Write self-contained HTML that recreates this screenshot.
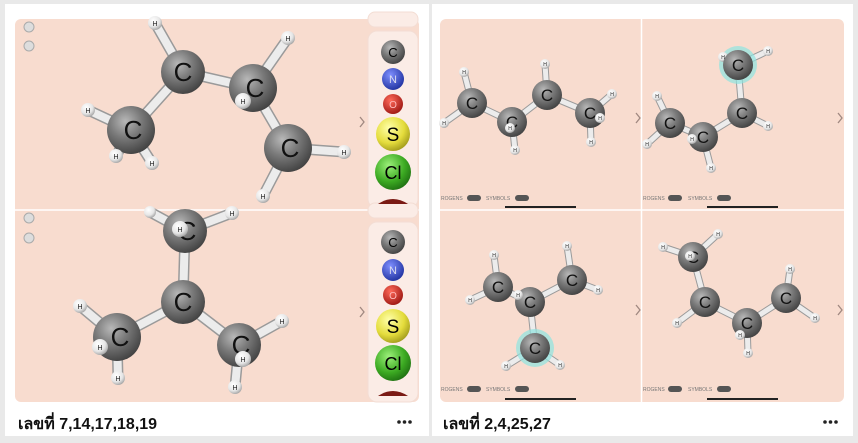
<!DOCTYPE html>
<html><head><meta charset="utf-8"><style>
html,body{margin:0;padding:0;background:#e9e9e9;}
body{width:858px;height:443px;position:relative;overflow:hidden;font-family:"Liberation Sans","DejaVu Sans",sans-serif;}
</style></head><body>
<svg width="858" height="443" viewBox="0 0 858 443" xmlns="http://www.w3.org/2000/svg" style="position:absolute;left:0;top:0">
<defs>
<radialGradient id="gc" cx="0.38" cy="0.32" r="0.75"><stop offset="0" stop-color="#b8b8b8"/><stop offset="0.45" stop-color="#7a7a7a"/><stop offset="1" stop-color="#3c3c3c"/></radialGradient>
<radialGradient id="gh" cx="0.38" cy="0.32" r="0.75"><stop offset="0" stop-color="#ffffff"/><stop offset="0.6" stop-color="#e6e6e6"/><stop offset="1" stop-color="#9a9a9a"/></radialGradient>
<radialGradient id="gn" cx="0.38" cy="0.32" r="0.75"><stop offset="0" stop-color="#7f8fff"/><stop offset="1" stop-color="#1c2e9c"/></radialGradient>
<radialGradient id="go" cx="0.38" cy="0.32" r="0.75"><stop offset="0" stop-color="#ff6a5a"/><stop offset="1" stop-color="#9a1410"/></radialGradient>
<radialGradient id="gs" cx="0.38" cy="0.32" r="0.75"><stop offset="0" stop-color="#ffffa8"/><stop offset="0.6" stop-color="#e4dc3c"/><stop offset="1" stop-color="#9a9418"/></radialGradient>
<radialGradient id="gcl" cx="0.38" cy="0.32" r="0.75"><stop offset="0" stop-color="#9cf07a"/><stop offset="0.6" stop-color="#3caa22"/><stop offset="1" stop-color="#1c6a10"/></radialGradient>
</defs>
<rect x="5" y="4" width="424" height="432" fill="#fff"/>
<rect x="432" y="4" width="421" height="432" fill="#fff"/>
<rect x="15" y="19" width="404" height="383" rx="6" fill="#f8dccf"/>
<rect x="440" y="19" width="404" height="383" rx="6" fill="#f8dccf"/>
<line x1="15" y1="210" x2="419" y2="210" stroke="#fff" stroke-width="1.5"/>
<line x1="440" y1="210" x2="844" y2="210" stroke="#fff" stroke-width="1.5"/>
<line x1="641.5" y1="19" x2="641.5" y2="402" stroke="#fff" stroke-width="1.5"/>
<g fill="#fbece6" stroke="#f3ddd4">
<rect x="368" y="12" width="50" height="15" rx="7"/><rect x="368" y="31" width="50" height="177" rx="9"/>
<rect x="368" y="203" width="50" height="15" rx="7"/><rect x="368" y="222" width="50" height="180" rx="9"/>
</g>
<g font-family="Liberation Sans,sans-serif" text-anchor="middle">
<circle cx="393" cy="52" r="12" fill="url(#gc)"/><text x="393" y="57" font-size="13">C</text>
<circle cx="393" cy="79" r="11" fill="url(#gn)"/><text x="393" y="83" font-size="11" fill="#dde">N</text>
<circle cx="393" cy="104" r="10" fill="url(#go)"/><text x="393" y="108" font-size="10" fill="#fbb">O</text>
<circle cx="393" cy="134" r="17" fill="url(#gs)"/><text x="393" y="141" font-size="19">S</text>
<circle cx="393" cy="172" r="18" fill="url(#gcl)"/><text x="393" y="179" font-size="18">Cl</text>
<path d="M378 204 Q393 194 408 204 Z" fill="#7a1a14"/>
<circle cx="393" cy="242" r="12" fill="url(#gc)"/><text x="393" y="247" font-size="13">C</text>
<circle cx="393" cy="270" r="11" fill="url(#gn)"/><text x="393" y="274" font-size="11" fill="#dde">N</text>
<circle cx="393" cy="295" r="10" fill="url(#go)"/><text x="393" y="299" font-size="10" fill="#fbb">O</text>
<circle cx="393" cy="326" r="17" fill="url(#gs)"/><text x="393" y="333" font-size="19">S</text>
<circle cx="393" cy="363" r="18" fill="url(#gcl)"/><text x="393" y="370" font-size="18">Cl</text>
<path d="M378 396 Q393 386 408 396 Z" fill="#7a1a14"/>
</g>
<g fill="#ddd" stroke="#aaa"><circle cx="29" cy="27" r="5"/><circle cx="29" cy="46" r="5"/><circle cx="29" cy="218" r="5"/><circle cx="29" cy="238" r="5"/></g>
<g fill="none" stroke="#a08880" stroke-width="1.3">
<polyline points="360,117 364,122 360,127"/><polyline points="360,307 364,312 360,317"/>
<polyline points="636,113 640,118 636,123"/><polyline points="838,113 842,118 838,123"/>
<polyline points="636,305 640,310 636,315"/><polyline points="838,305 842,310 838,315"/>
</g>
<g font-size="5" fill="#777">
<text x="441" y="200">ROGENS</text><rect x="467" y="195" width="14" height="6" rx="3" fill="#555"/><text x="486" y="200">SYMBOLS</text><rect x="515" y="195" width="14" height="6" rx="3" fill="#555"/>
<text x="643" y="200">ROGENS</text><rect x="668" y="195" width="14" height="6" rx="3" fill="#555"/><text x="688" y="200">SYMBOLS</text><rect x="717" y="195" width="14" height="6" rx="3" fill="#555"/>
<text x="441" y="391">ROGENS</text><rect x="467" y="386" width="14" height="6" rx="3" fill="#555"/><text x="486" y="391">SYMBOLS</text><rect x="515" y="386" width="14" height="6" rx="3" fill="#555"/>
<text x="643" y="391">ROGENS</text><rect x="668" y="386" width="14" height="6" rx="3" fill="#555"/><text x="688" y="391">SYMBOLS</text><rect x="717" y="386" width="14" height="6" rx="3" fill="#555"/>
</g>
<g stroke="#222" stroke-width="2"><line x1="505" y1="207" x2="576" y2="207"/><line x1="707" y1="207" x2="778" y2="207"/><line x1="505" y1="399" x2="576" y2="399"/><line x1="707" y1="399" x2="778" y2="399"/></g>

<g stroke-linecap="round" fill="none">
<g stroke="#9a9a9a" stroke-width="11">
<path d="M131 130L183 72L253 88L288 148M131 130L88 110M131 130L116 156M131 130L152 163M183 72L155 23M253 88L288 38M288 148L344 152M288 148L263 196"/>
<path d="M185 231L183 302L117 337M183 302L239 345M185 231L232 213M185 231L150 212M117 337L80 306M117 337L118 378M239 345L282 321M239 345L235 387"/>
</g>
<g stroke="#ececec" stroke-width="8">
<path d="M131 130L183 72L253 88L288 148M131 130L88 110M131 130L116 156M131 130L152 163M183 72L155 23M253 88L288 38M288 148L344 152M288 148L263 196"/>
<path d="M185 231L183 302L117 337M183 302L239 345M185 231L232 213M185 231L150 212M117 337L80 306M117 337L118 378M239 345L282 321M239 345L235 387"/>
</g>
<g stroke="#9a9a9a" stroke-width="7">
<path d="M472 103L512 122L547 95L590 113M472 103L464 72M472 103L444 123M512 122L515 150M547 95L545 64M590 113L612 94M590 113L591 142"/>
<path d="M738 65L742 113L703 137L670 123M738 65L723 57M738 65L768 51M742 113L768 126M670 123L657 96M670 123L647 144M703 137L711 168"/>
<path d="M498 287L530 302L572 280M530 302L535 348M498 287L494 255M498 287L470 300M572 280L567 246M572 280L598 290M535 348L506 366M535 348L560 365"/>
<path d="M693 257L705 302L747 323L786 298M693 257L663 247M693 257L718 234M705 302L677 323M747 323L748 353M786 298L790 269M786 298L815 318"/>
</g>
<g stroke="#ececec" stroke-width="5">
<path d="M472 103L512 122L547 95L590 113M472 103L464 72M472 103L444 123M512 122L515 150M547 95L545 64M590 113L612 94M590 113L591 142"/>
<path d="M738 65L742 113L703 137L670 123M738 65L723 57M738 65L768 51M742 113L768 126M670 123L657 96M670 123L647 144M703 137L711 168"/>
<path d="M498 287L530 302L572 280M530 302L535 348M498 287L494 255M498 287L470 300M572 280L567 246M572 280L598 290M535 348L506 366M535 348L560 365"/>
<path d="M693 257L705 302L747 323L786 298M693 257L663 247M693 257L718 234M705 302L677 323M747 323L748 353M786 298L790 269M786 298L815 318"/>
</g>
</g>

<g font-family="Liberation Sans,sans-serif" text-anchor="middle">
<g fill="url(#gh)">
<circle cx="88" cy="110" r="7"/><circle cx="152" cy="163" r="7"/><circle cx="155" cy="23" r="7"/><circle cx="288" cy="38" r="7"/><circle cx="344" cy="152" r="7"/><circle cx="263" cy="196" r="7"/>
<circle cx="150" cy="212" r="6"/><circle cx="232" cy="213" r="7"/><circle cx="80" cy="306" r="7"/><circle cx="118" cy="378" r="7"/><circle cx="282" cy="321" r="7"/><circle cx="235" cy="387" r="7"/>
</g>
<g fill="url(#gc)">
<circle cx="131" cy="130" r="24"/><circle cx="183" cy="72" r="22"/><circle cx="253" cy="88" r="24"/><circle cx="288" cy="148" r="24"/>
<circle cx="185" cy="231" r="22"/><circle cx="183" cy="302" r="22"/><circle cx="117" cy="337" r="24"/><circle cx="239" cy="345" r="22"/>
</g>
<g font-size="26" fill="#111">
<text x="133" y="139">C</text><text x="183" y="81">C</text><text x="255" y="97">C</text><text x="290" y="157">C</text>
<text x="183" y="311">C</text><text x="120" y="346">C</text><text x="241" y="354">C</text><text x="187" y="240">C</text>
</g>
<g fill="url(#gh)"><circle cx="116" cy="156" r="7"/><circle cx="243" cy="101" r="8"/><circle cx="180" cy="229" r="8"/><circle cx="100" cy="347" r="8"/><circle cx="243" cy="359" r="8"/></g>
<g font-size="7" fill="#222">
<text x="88" y="113">H</text><text x="116" y="159">H</text><text x="152" y="166">H</text><text x="155" y="26">H</text><text x="288" y="41">H</text><text x="243" y="104">H</text><text x="344" y="155">H</text><text x="263" y="199">H</text>
<text x="232" y="216">H</text><text x="180" y="232">H</text><text x="80" y="309">H</text><text x="100" y="350">H</text><text x="118" y="381">H</text><text x="282" y="324">H</text><text x="243" y="362">H</text><text x="235" y="390">H</text>
</g>
<circle cx="738" cy="65" r="19" fill="#8fe4e0" opacity="0.7"/>
<circle cx="535" cy="348" r="19" fill="#8fe4e0" opacity="0.7"/>
<g fill="url(#gh)">
<circle cx="464" cy="72" r="5"/><circle cx="444" cy="123" r="5"/><circle cx="515" cy="150" r="5"/><circle cx="545" cy="64" r="5"/><circle cx="612" cy="94" r="5"/><circle cx="591" cy="142" r="5"/>
<circle cx="723" cy="57" r="5"/><circle cx="768" cy="51" r="5"/><circle cx="768" cy="126" r="5"/><circle cx="657" cy="96" r="5"/><circle cx="647" cy="144" r="5"/><circle cx="711" cy="168" r="5"/>
<circle cx="494" cy="255" r="5"/><circle cx="470" cy="300" r="5"/><circle cx="567" cy="246" r="5"/><circle cx="598" cy="290" r="5"/><circle cx="506" cy="366" r="5"/><circle cx="560" cy="365" r="5"/>
<circle cx="663" cy="247" r="5"/><circle cx="718" cy="234" r="5"/><circle cx="677" cy="323" r="5"/><circle cx="748" cy="353" r="5"/><circle cx="790" cy="269" r="5"/><circle cx="815" cy="318" r="5"/>
</g>
<g fill="url(#gc)">
<circle cx="472" cy="103" r="15"/><circle cx="512" cy="122" r="15"/><circle cx="547" cy="95" r="15"/><circle cx="590" cy="113" r="15"/>
<circle cx="738" cy="65" r="15"/><circle cx="742" cy="113" r="15"/><circle cx="703" cy="137" r="15"/><circle cx="670" cy="123" r="15"/>
<circle cx="498" cy="287" r="15"/><circle cx="530" cy="302" r="15"/><circle cx="572" cy="280" r="15"/><circle cx="535" cy="348" r="15"/>
<circle cx="693" cy="257" r="15"/><circle cx="705" cy="302" r="15"/><circle cx="747" cy="323" r="15"/><circle cx="786" cy="298" r="15"/>
</g>
<g font-size="17" fill="#111">
<text x="472" y="109">C</text><text x="512" y="128">C</text><text x="547" y="101">C</text><text x="590" y="119">C</text>
<text x="738" y="71">C</text><text x="742" y="119">C</text><text x="703" y="143">C</text><text x="670" y="129">C</text>
<text x="498" y="293">C</text><text x="530" y="308">C</text><text x="572" y="286">C</text><text x="535" y="354">C</text>
<text x="693" y="263">C</text><text x="705" y="308">C</text><text x="747" y="329">C</text><text x="786" y="304">C</text>
</g>
<g fill="url(#gh)"><circle cx="510" cy="128" r="5"/><circle cx="600" cy="118" r="5"/><circle cx="692" cy="139" r="5"/><circle cx="518" cy="295" r="5"/><circle cx="690" cy="256" r="5"/><circle cx="740" cy="335" r="5"/></g>
<g font-size="5" fill="#222">
<text x="464" y="74">H</text><text x="444" y="125">H</text><text x="515" y="152">H</text><text x="545" y="66">H</text><text x="612" y="96">H</text><text x="591" y="144">H</text><text x="510" y="130">H</text><text x="600" y="120">H</text>
<text x="723" y="59">H</text><text x="768" y="53">H</text><text x="768" y="128">H</text><text x="657" y="98">H</text><text x="647" y="146">H</text><text x="711" y="170">H</text><text x="692" y="141">H</text>
<text x="494" y="257">H</text><text x="470" y="302">H</text><text x="567" y="248">H</text><text x="598" y="292">H</text><text x="506" y="368">H</text><text x="560" y="367">H</text><text x="518" y="297">H</text>
<text x="663" y="249">H</text><text x="718" y="236">H</text><text x="677" y="325">H</text><text x="748" y="355">H</text><text x="790" y="271">H</text><text x="815" y="320">H</text><text x="690" y="258">H</text><text x="740" y="337">H</text>
</g>
</g>
<text x="18" y="429" font-family="Liberation Sans,'DejaVu Sans',sans-serif" font-size="16" font-weight="bold" fill="#111">เลขที่ 7,14,17,18,19</text>
<text x="443" y="429" font-family="Liberation Sans,'DejaVu Sans',sans-serif" font-size="16" font-weight="bold" fill="#111">เลขที่ 2,4,25,27</text>
<g fill="#222"><circle cx="399" cy="422" r="1.8"/><circle cx="404.5" cy="422" r="1.8"/><circle cx="410" cy="422" r="1.8"/>
<circle cx="825" cy="422" r="1.8"/><circle cx="830.5" cy="422" r="1.8"/><circle cx="836" cy="422" r="1.8"/></g>
</svg>
</body></html>
